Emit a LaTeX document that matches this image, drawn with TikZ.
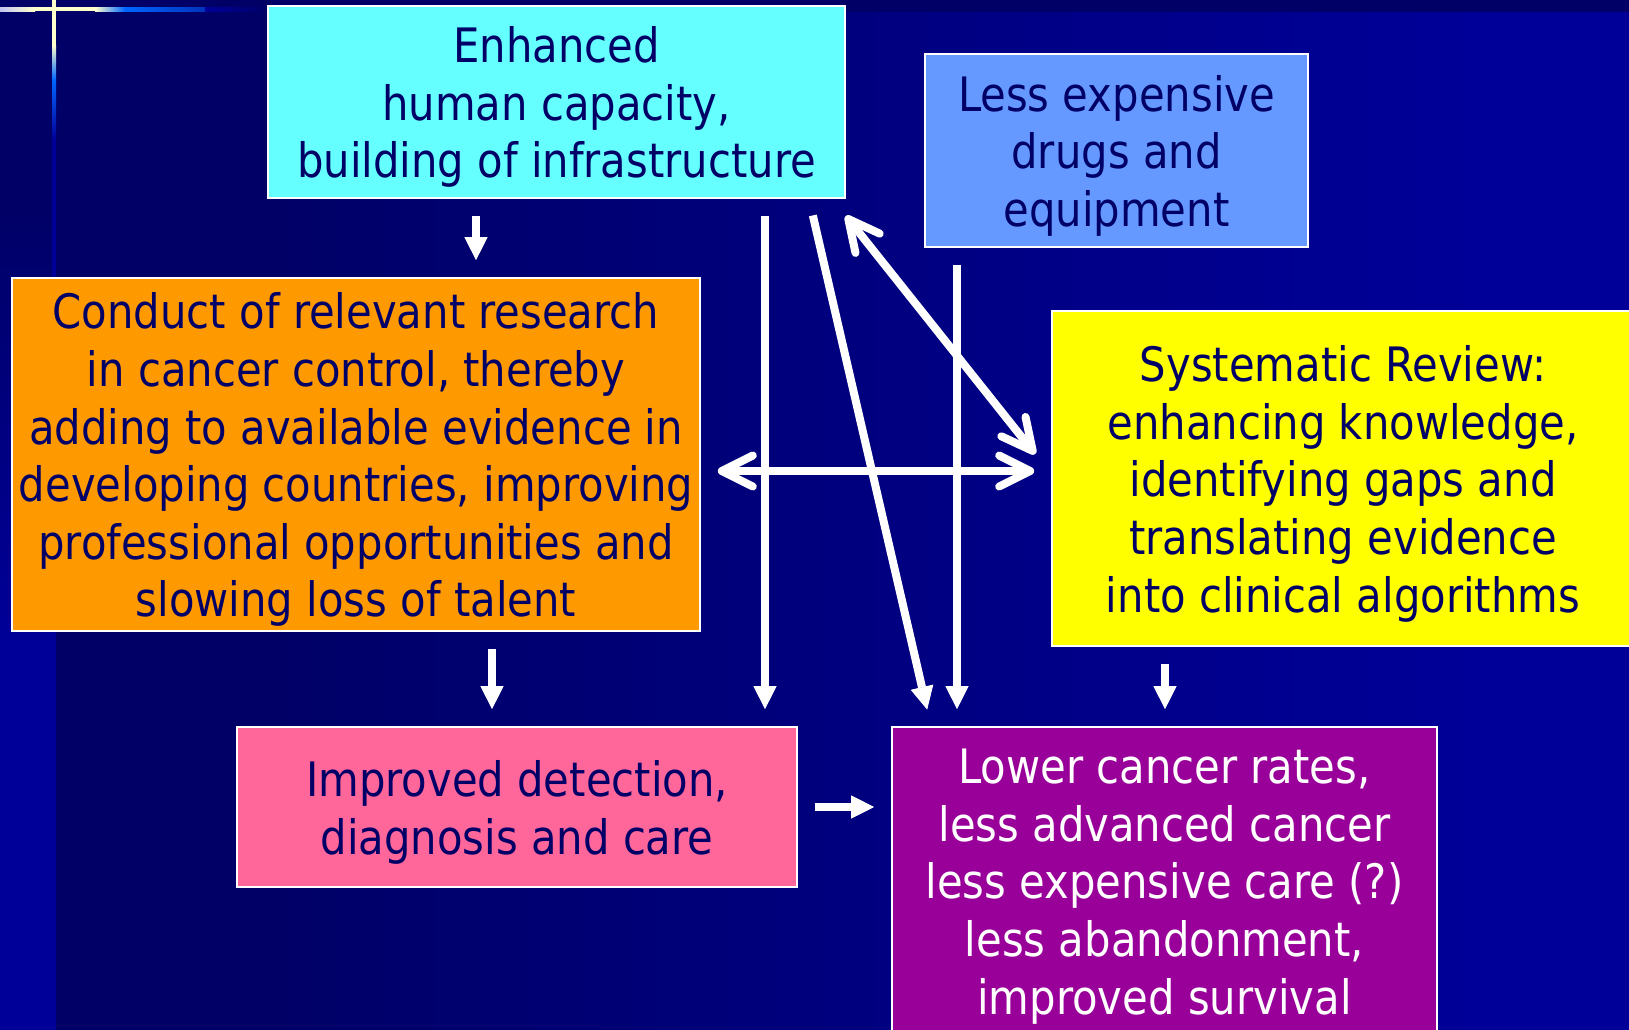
\documentclass[tikz,border=0pt]{standalone}
\usepackage{fontspec}
\setmainfont{DejaVu Sans}[FakeStretch=0.88]
\usetikzlibrary{arrows.meta}
\usetikzlibrary{positioning}
\usetikzlibrary{calc}

\definecolor{navy}{HTML}{000066}
\definecolor{deepblue}{HTML}{000099}
\definecolor{glowblue}{HTML}{0066FF}
\definecolor{glowdim}{HTML}{0033BB}
\definecolor{glowyellow}{HTML}{FFFFCC}
\definecolor{glowlilac}{HTML}{B3B3FF}
\definecolor{aqua}{HTML}{66FFFF}
\definecolor{skyblue}{HTML}{6699FF}
\definecolor{tangerine}{HTML}{FF9900}
\definecolor{lemon}{HTML}{FFFF00}
\definecolor{rose}{HTML}{FF6699}
\definecolor{plum}{HTML}{990099}

% taller first line, so the text sits a little low in its box
\newcommand{\lift}{\rule{0pt}{26.5pt}}

\begin{document}
\begin{tikzpicture}[x=0.02cm, y=-0.02cm]

\useasboundingbox (0,0) rectangle (1629,1029);

\def\Gap{0.34cm}
\def\LineWidth{0.16cm}

% Styles
\tikzstyle{box} =
	[draw=white, line width=0.035cm, text=navy, align=center, inner sep=0pt,
	 font=\fontsize{27pt}{32.8pt}\selectfont]

\tikzstyle{flow} =
	[draw=white, line width=\LineWidth, shorten <=\Gap, shorten >=\Gap,
	 -{Triangle[width=0.46cm, length=0.46cm, line width=0.5pt]}]

\tikzstyle{link} =
	[draw=white, line width=\LineWidth, shorten <=\Gap, shorten >=\Gap,
	 {Straight Barb[length=0.62cm, width=0.62cm, round]}-{Straight Barb[length=0.62cm, width=0.62cm, round]}]

% Backdrop
\fill[navy] (-10,-10) rectangle (1640,1040);
\shade[left color=navy, right color=deepblue] (250,12) rectangle (1500,1040);
\fill[deepblue] (1500,12) rectangle (1640,1040);
\shade[top color=navy, bottom color=deepblue] (-10,200) rectangle (52,650);
\fill[deepblue] (-10,650) rectangle (52,1040);

% Glow lines
\fill[deepblue] (52,0) rectangle (56,1040);
\fill[glowyellow] (52,-10) rectangle (56,45);
\shade[top color=glowyellow, bottom color=glowblue] (52,45) rectangle (56,80);
\shade[top color=glowblue, bottom color=deepblue] (52,80) rectangle (56,140);

\shade[left color=glowlilac, right color=glowyellow] (-10,7) rectangle (35,11);
\fill[glowyellow] (35,7) rectangle (95,11);
\shade[left color=glowyellow, right color=glowblue] (95,7) rectangle (125,11);
\shade[left color=glowblue, right color=glowdim] (125,7) rectangle (205,11);
\shade[left color=deepblue, right color=navy] (205,7) rectangle (268,11);
\fill[glowyellow] (52,7) rectangle (56,11);

% Boxes
\node (Capacity) at (556.5,102)
	[box, fill=aqua, minimum width=11.54cm, minimum height=3.84cm]
	{\lift Enhanced\\human capacity,\\building of infrastructure};

\node (Costs) at (1116.5,150.5)
	[box, fill=skyblue, minimum width=7.66cm, minimum height=3.86cm]
	{\lift Less expensive\\drugs and\\equipment};

\node (Research) at (356,454.5)
	[box, fill=tangerine, minimum width=13.76cm, minimum height=7.06cm]
	{\lift Conduct of relevant research\\in cancer control, thereby\\adding to available evidence in\\developing countries, improving\\professional opportunities and\\slowing loss of talent};

\node (Review) at (1343,478.5)
	[box, fill=lemon, minimum width=11.64cm, minimum height=6.7cm]
	{\lift Systematic Review:\\enhancing knowledge,\\identifying gaps and\\translating evidence\\into clinical algorithms};

\node (Care) at (517,807)
	[box, fill=rose, minimum width=11.2cm, minimum height=3.2cm]
	{\lift Improved detection,\\diagnosis and care};

\node (Outcome) at (1164.5,880.5)
	[box, fill=plum, text=white, minimum width=10.9cm, minimum height=6.14cm]
	{\lift Lower cancer rates,\\less advanced cancer\\less expensive care (?)\\less abandonment,\\improved survival};

% Arrow columns
\coordinate (capLeft) at (476,0);
\coordinate (resDown) at (492,0);
\coordinate (capDown) at (765,0);
\coordinate (slantTop) at (809,0);
\coordinate (slantEnd) at (931,0);
\coordinate (costDown) at (957,0);
\coordinate (revDown) at (1165,0);
\coordinate (careRow) at (0,807);
\coordinate (crossRow) at (0,471);

% Edges
\draw[flow] (Capacity.south -| capLeft) -- (Research.north -| capLeft);
\draw[flow] (Research.south -| resDown) -- (Care.north -| resDown);
\draw[flow] (Capacity.south -| capDown) -- (Care.north -| capDown);
\draw[flow] (Capacity.south -| slantTop) -- (Outcome.north -| slantEnd);
\draw[flow] (Costs.south -| costDown) -- (Outcome.north -| costDown);
\draw[flow] (Review.south -| revDown) -- (Outcome.north -| revDown);
\draw[flow] (Care.east |- careRow) -- (Outcome.west |- careRow);

\draw[link] (Research.east |- crossRow) -- (Review.west |- crossRow);
\draw[link, shorten <=0pt, shorten >=0pt]
	($(Capacity.south east)+(0,17)$) -- ($(Review.west)+(-16,-24.5)$);

\end{tikzpicture}
\end{document}
